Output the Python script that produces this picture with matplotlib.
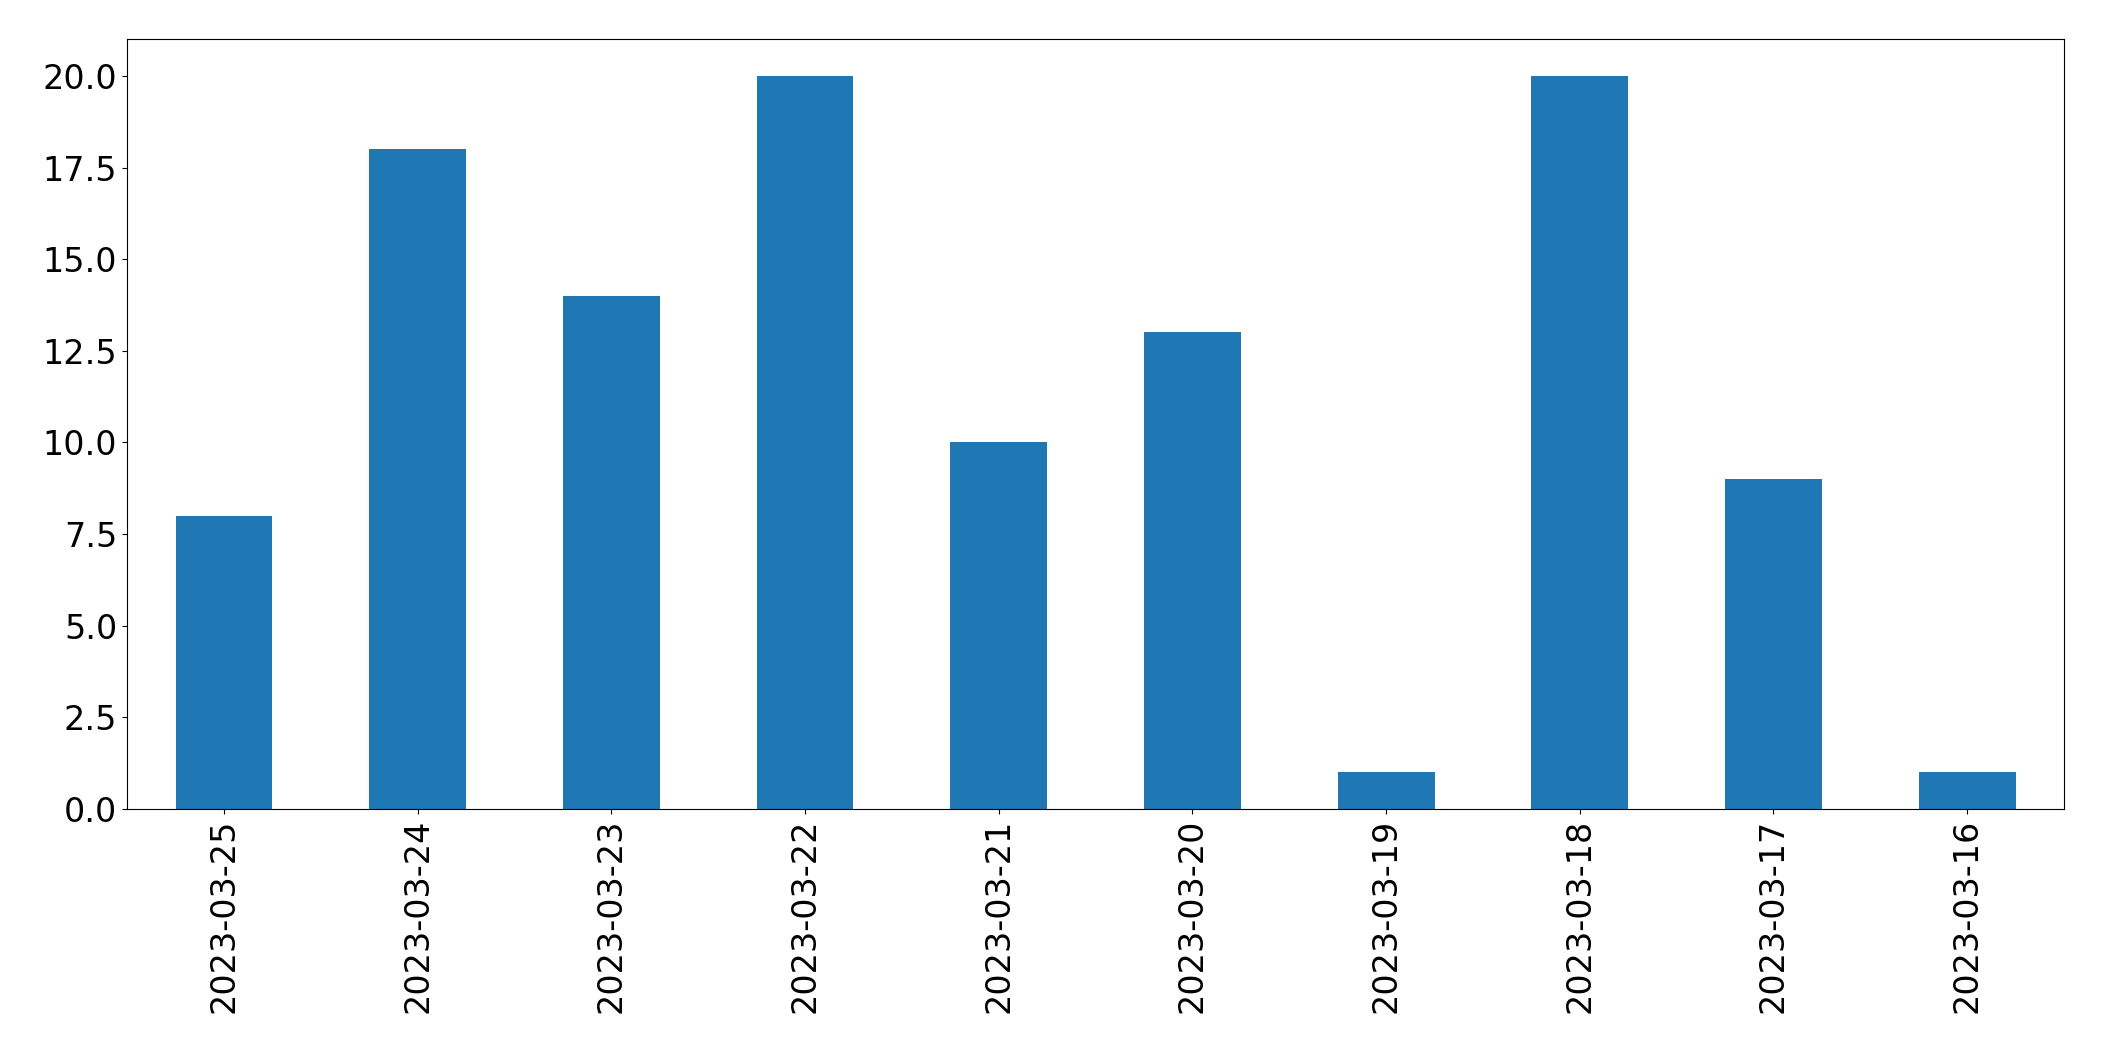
import pandas as pd
import matplotlib.pyplot as plt

# === Data ===
dates = ["2023-03-25", "2023-03-24", "2023-03-23", "2023-03-22", "2023-03-21",
         "2023-03-20", "2023-03-19", "2023-03-18", "2023-03-17", "2023-03-16"]
counts = [8, 18, 14, 20, 10, 13, 1, 20, 9, 1]

s = pd.Series(counts, index=dates)

# === Plot ===
fig, ax = plt.subplots(figsize=(21.04, 10.61), dpi=100)
s.plot(kind="bar", ax=ax, color="#1f77b4", fontsize=24)
ax.tick_params(axis="both", labelsize=24)

fig.subplots_adjust(left=0.0604, right=0.981, top=0.963, bottom=0.2375)
fig.savefig("out.png", dpi=100)
